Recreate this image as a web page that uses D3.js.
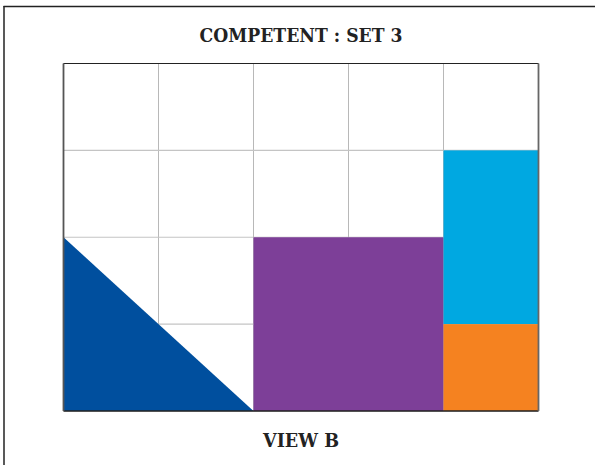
<!DOCTYPE html>
<html><head><meta charset="utf-8">
<script src="https://cdn.jsdelivr.net/npm/d3@7"></script>
<style>html,body{margin:0;padding:0;background:#fff;}svg{display:block;}</style>
</head><body>
<script>
const title = "COMPETENT : SET 3";
const subtitle = "VIEW B";
const colTicks = [0, 1, 2, 3, 4, 5];
const rowTicks = [0, 1, 2, 3, 4];
const rectNames = ["purple", "cyan", "orange"];
const rectX0 = [2, 4, 4];
const rectX1 = [4, 5, 5];
const rectY0 = [2, 1, 3];
const rectY1 = [4, 3, 4];
const rectColors = ["#7d3f98", "#00a8e1", "#f58220"];
const triPoints = [[0, 2], [0, 4], [2, 4]];
const triColor = "#004f9e";

const W = 595, H = 465;
const svg = d3.select("body").append("svg").attr("width", W).attr("height", H);
const x = d3.scaleLinear().domain([0, 5]).range([63.5, 538.5]);
const y = d3.scaleLinear().domain([0, 4]).range([63.5, 411]);

// outer frame
svg.append("line").attr("x1", 3.5).attr("x2", W).attr("y1", 6.5).attr("y2", 6.5).attr("stroke", "#222").attr("stroke-width", 1.5);
svg.append("line").attr("x1", 4).attr("x2", 4).attr("y1", 6).attr("y2", H).attr("stroke", "#222").attr("stroke-width", 1.5);

// grid
const g = svg.append("g");
g.selectAll("line.v").data(colTicks).join("line").attr("class", "v")
  .attr("x1", d => x(d)).attr("x2", d => x(d)).attr("y1", y(0)).attr("y2", y(4))
  .attr("stroke", "#b8b8b8").attr("stroke-width", 1);
g.selectAll("line.h").data(rowTicks).join("line").attr("class", "h")
  .attr("y1", d => y(d)).attr("y2", d => y(d)).attr("x1", x(0)).attr("x2", x(5))
  .attr("stroke", "#c4c4c4").attr("stroke-width", 1.2);

// shapes
svg.append("path").datum(triPoints)
  .attr("d", d3.line().x(d => x(d[0])).y(d => y(d[1])).curve(d3.curveLinearClosed))
  .attr("fill", triColor);
svg.selectAll("rect.s").data(rectNames).join("rect").attr("class", "s")
  .attr("x", (d, i) => x(rectX0[i])).attr("y", (d, i) => y(rectY0[i]))
  .attr("width", (d, i) => x(rectX1[i]) - x(rectX0[i]))
  .attr("height", (d, i) => y(rectY1[i]) - y(rectY0[i]))
  .attr("fill", (d, i) => rectColors[i]);

// plot border
svg.append("line").attr("x1", x(0)).attr("x2", x(5)).attr("y1", y(0)).attr("y2", y(0)).attr("stroke", "#222").attr("stroke-width", 1.2);
svg.append("line").attr("x1", x(0)).attr("x2", x(5)).attr("y1", y(4)).attr("y2", y(4)).attr("stroke", "#222").attr("stroke-width", 1.5);
svg.append("line").attr("x1", x(0)).attr("x2", x(0)).attr("y1", y(0)).attr("y2", y(4)).attr("stroke", "#555").attr("stroke-width", 1.8);
svg.append("line").attr("x1", x(5)).attr("x2", x(5)).attr("y1", y(0)).attr("y2", y(4)).attr("stroke", "#666").attr("stroke-width", 1.8);

// texts
const font = "'DejaVu Serif', serif";
svg.append("text").attr("x", 301).attr("y", 42).attr("text-anchor", "middle")
  .attr("font-family", font).attr("font-weight", "bold").attr("font-size", 18)
  .attr("fill", "#222").attr("textLength", 203).attr("lengthAdjust", "spacingAndGlyphs").text(title);
svg.append("text").attr("x", 301).attr("y", 447).attr("text-anchor", "middle")
  .attr("font-family", font).attr("font-weight", "bold").attr("font-size", 18)
  .attr("fill", "#222").attr("textLength", 76).attr("lengthAdjust", "spacingAndGlyphs").text(subtitle);
</script>
</body></html>
